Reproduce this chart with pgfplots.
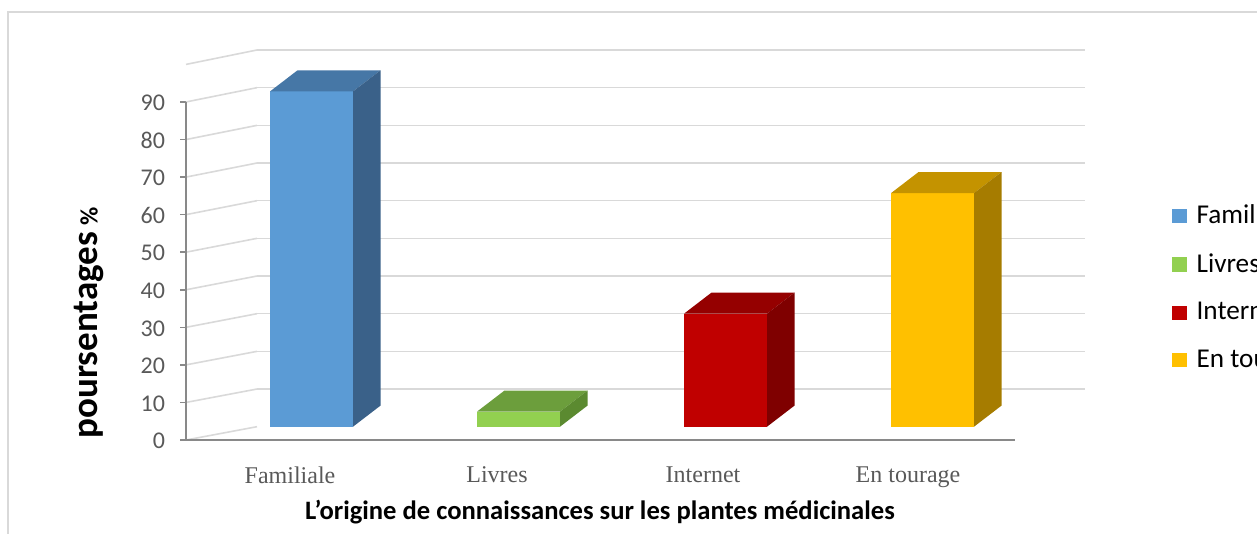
\documentclass[border=0pt]{standalone}
\usepackage{fontspec}
\setmainfont{Carlito}
\newfontfamily\timesf{Liberation Serif}
\usepackage{pgfplots}
\pgfplotsset{compat=1.18}
\definecolor{frame}{HTML}{D9D9D9}
\definecolor{gridc}{HTML}{D9D9D9}
\definecolor{axgray}{HTML}{898989}
\definecolor{labgray}{HTML}{595959}
\definecolor{blueF}{HTML}{5B9BD5}
\definecolor{blueT}{HTML}{4677A6}
\definecolor{blueS}{HTML}{3A6189}
\definecolor{greenF}{HTML}{92D050}
\definecolor{greenT}{HTML}{6C9E3C}
\definecolor{greenS}{HTML}{5B8A30}
\definecolor{redF}{HTML}{C00000}
\definecolor{redT}{HTML}{950000}
\definecolor{redS}{HTML}{7F0000}
\definecolor{yelF}{HTML}{FFC000}
\definecolor{yelT}{HTML}{C49300}
\definecolor{yelS}{HTML}{A67C00}
\begin{document}
\begin{tikzpicture}
\path[use as bounding box] (0,0) rectangle (628.5pt,267pt);
\clip (0,0) rectangle (628.5pt,267pt);
\draw[color=frame, line width=0.6pt] (4pt,-20pt) rectangle (700pt,261pt);
\begin{axis}[
  at={(93pt,47pt)}, anchor=south west,
  x=0.5pt, y=1.8835pt,
  xmin=186, xmax=1085, ymin=-3.53, ymax=100,
  enlargelimits=false, clip=false,
  axis line style={draw=none},
  xtick={290,497,703,908},
  xticklabels={Familiale,Livres,Internet,En tourage},
  xticklabel style={font=\timesf\fontsize{12}{14}\selectfont, text=labgray, yshift=-7pt},
  ytick={-3.53,6.44,16.41,26.38,36.35,46.32,56.29,66.26,76.23,86.2},
  yticklabels={0,10,20,30,40,50,60,70,80,90},
  yticklabel style={font=\fontsize{12}{14}\selectfont, text=labgray, xshift=-4pt, yshift=-0.5pt},
  tick align=outside,
  tick pos=left,
  xtick style={draw=none},
  ytick style={draw=axgray, line width=0.75pt},
  major tick length=3pt,
  legend style={at={(axis cs:1172,36.9)}, anchor=west, draw=none, fill=none,
    inner sep=0pt, font=\fontsize{13.6}{15}\selectfont, row sep=9.5pt,
    /tikz/every odd column/.append style={column sep=2.8pt}},
  legend cell align=left,
  legend image code/.code={\fill[#1] (0pt,-3.6pt) rectangle (7.3pt,3.6pt);},
]
% back wall gridlines
\pgfplotsinvokeforeach{10,20,...,100}{
  \draw[gridc, line width=0.8pt] (axis cs:257,#1) -- (axis cs:1085,#1);
}
% side wall diagonals
\pgfplotsinvokeforeach{0,10,...,100}{
  \draw[gridc, line width=0.8pt] (axis cs:186,{-3.53+0.997*#1}) -- (axis cs:257,#1);
}
% bars (front faces)
\addplot[ybar, bar shift=0pt, bar width=41.5pt, fill=blueF, draw=none] coordinates {(311.5,89)};
\addplot[ybar, bar shift=0pt, bar width=41.5pt, fill=greenF, draw=none] coordinates {(518.5,4)};
\addplot[ybar, bar shift=0pt, bar width=41.5pt, fill=redF, draw=none] coordinates {(725.5,30)};
\addplot[ybar, bar shift=0pt, bar width=41.5pt, fill=yelF, draw=none] coordinates {(932.5,62)};
\legend{Familiale,Livres,Internet,En tourage}
% top faces
\addplot[fill=blueT, draw=none, forget plot] coordinates {(270,89) (353,89) (380.5,94.6) (297.5,94.6)} -- cycle;
\addplot[fill=greenT, draw=none, forget plot] coordinates {(477,4) (560,4) (587.5,9.6) (504.5,9.6)} -- cycle;
\addplot[fill=redT, draw=none, forget plot] coordinates {(684,30) (767,30) (794.5,35.6) (711.5,35.6)} -- cycle;
\addplot[fill=yelT, draw=none, forget plot] coordinates {(891,62) (974,62) (1001.5,67.6) (918.5,67.6)} -- cycle;
% side faces
\addplot[fill=blueS, draw=none, forget plot] coordinates {(353,0) (353,89) (380.5,94.6) (380.5,5.6)} -- cycle;
\addplot[fill=greenS, draw=none, forget plot] coordinates {(560,0) (560,4) (587.5,9.6) (587.5,5.6)} -- cycle;
\addplot[fill=redS, draw=none, forget plot] coordinates {(767,0) (767,30) (794.5,35.6) (794.5,5.6)} -- cycle;
\addplot[fill=yelS, draw=none, forget plot] coordinates {(974,0) (974,62) (1001.5,67.6) (1001.5,5.6)} -- cycle;
% front axis lines
\draw[axgray, line width=0.9pt] (axis cs:186,86.2) -- (axis cs:186,-3.53) -- (axis cs:1015,-3.53);
% titles
\node[font=\bfseries\fontsize{13.3}{15}\selectfont] at (axis cs:600,-22.6) {L’origine de connaissances sur les plantes médicinales};
\node[rotate=90, font=\bfseries\fontsize{18.5}{20}\selectfont] at (axis cs:89,27.5) {poursentages\,{\fontsize{12.5}{14}\selectfont\%}};
\end{axis}
\end{tikzpicture}
\end{document}
